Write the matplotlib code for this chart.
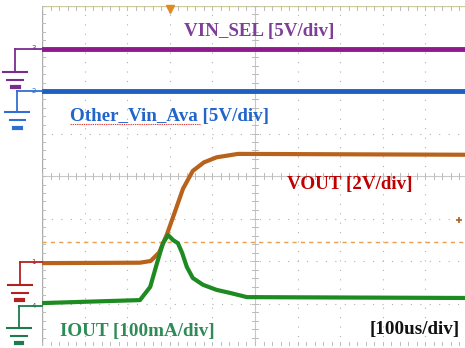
import numpy as np
import matplotlib
matplotlib.use('Agg')
import matplotlib.pyplot as plt

# time in divisions (100us/div), levels in screen divisions from bottom
t_flat = [0.0, 9.93]
vin_sel = [7.0, 7.0]
other_vin = [6.0, 6.0]

vout_t = [0.0, 2.3, 2.55, 2.75, 2.93, 3.1, 3.31, 3.54, 3.8, 4.1, 4.6, 9.93]
vout_v = [1.95, 1.96, 2.0, 2.2, 2.62, 3.1, 3.7, 4.12, 4.32, 4.44, 4.52, 4.5]

iout_t = [0.0, 2.3, 2.54, 2.7, 2.84, 2.96, 3.08, 3.19, 3.29, 3.4, 3.54, 3.78, 4.1, 4.41, 4.81, 9.93]
iout_v = [1.01, 1.08, 1.39, 1.95, 2.42, 2.61, 2.49, 2.42, 2.19, 1.86, 1.6, 1.44, 1.32, 1.25, 1.15, 1.13]

trig_level = 2.45
trig_time = 3.0

fig = plt.figure(figsize=(4.65, 3.48), dpi=100)
ax = fig.add_axes([42/465, 2/348, 423/465, 340/348])
ax.set_xlim(0, 9.93)
ax.set_ylim(0, 8)
ax.axis('off')

# graticule
for gx in range(1, 10):
    ax.plot([gx, gx], [0, 8], color='#b0b0b0', lw=0.8, ls=(0, (1, 7.5)))
for gy in range(1, 8):
    ax.plot([0, 9.93], [gy, gy], color='#b0b0b0', lw=0.8, ls=(0, (1, 7.5)))
ax.plot([5, 5], [0, 8], color='#c8c8c8', lw=0.8)
ax.plot([0, 9.93], [4, 4], color='#c8c8c8', lw=0.8)
ax.plot([0, 0], [0, 8], color='#aaaaaa', lw=1)
ax.plot([0, 9.93], [8, 8], color='#cccc99', lw=1)
ticks_x = np.arange(0, 9.93, 0.2)
ticks_y = np.arange(0, 8.01, 0.2)
for tx in ticks_x:
    ax.plot([tx, tx], [3.94, 4.06], color='#bbbbbb', lw=0.7)
    ax.plot([tx, tx], [7.9, 8], color='#bbbbbb', lw=0.7)
    ax.plot([tx, tx], [0, 0.1], color='#bbbbbb', lw=0.7)
for ty in ticks_y:
    ax.plot([4.94, 5.06], [ty, ty], color='#bbbbbb', lw=0.7)
    ax.plot([0, 0.08], [ty, ty], color='#bbbbbb', lw=0.7)

# trigger level and marker
ax.plot(t_flat, [trig_level, trig_level], color='#e8a050', lw=1, ls=(0, (3, 3)))
ax.plot([trig_time], [7.93], marker='v', color='#e08a20', ms=6, clip_on=False)
ax.plot([9.8], [2.96], marker='+', color='#b06020', ms=5, mew=1.2)

# traces
ax.plot(t_flat, vin_sel, color='#8e1a8e', lw=3.5)
ax.plot(t_flat, other_vin, color='#1f5fbf', lw=3.5)
ax.plot(vout_t, vout_v, color='#b8621b', lw=3)
ax.plot(iout_t, iout_v, color='#1e8b22', lw=3)

# channel ground markers on the left
def chan_marker(y, yg, xv, col, lab):
    ax.plot([xv, 0], [y, y], color=col, lw=1.3, clip_on=False)
    ax.plot([xv, xv], [y, yg], color=col, lw=1.3, clip_on=False)
    ax.plot([xv - 0.28, xv + 0.28], [yg, yg], color=col, lw=1.5, clip_on=False)
    ax.plot([xv - 0.18, xv + 0.18], [yg - 0.19, yg - 0.19], color=col, lw=1.5, clip_on=False)
    ax.plot([xv - 0.08, xv + 0.08], [yg - 0.36, yg - 0.36], color=col, lw=3, clip_on=False)
    ax.text(-0.2, y, lab, color=col, fontsize=5, ha='center', va='center')

chan_marker(7.0, 6.45, -0.63, '#7b2d8e', '3')
chan_marker(6.0, 5.5, -0.58, '#2f6fd0', '2')
chan_marker(1.97, 1.44, -0.52, '#b22222', '1')
chan_marker(0.94, 0.42, -0.54, '#1e7b4e', '4')

# labels
fnt = dict(family='Liberation Serif', weight='bold', fontsize=13.7)
ax.text(3.34, 7.39, 'VIN_SEL [5V/div]', color='#7f3f98', va='center', **fnt)
ax.text(0.66, 5.39, 'Other_Vin_Ava [5V/div]', color='#2266cc', va='center', **fnt)
ax.plot([0.66, 3.7], [5.22, 5.22], color='#e04040', lw=0.8, ls=(0, (1.2, 0.8)))
ax.text(5.75, 3.79, 'VOUT [2V/div]', color='#c00000', va='center', **fnt)
ax.text(0.42, 0.33, 'IOUT [100mA/div]', color='#2e8b57', va='center', **fnt)
ax.text(7.7, 0.38, '[100us/div]', color='#111111', va='center', **fnt)

fig.savefig('out.png', dpi=100)
